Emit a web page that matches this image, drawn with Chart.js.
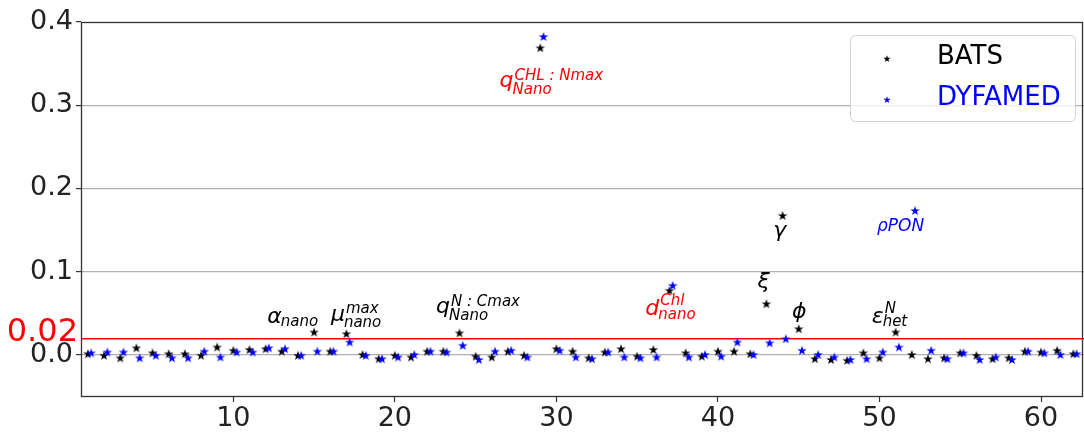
<!DOCTYPE html>
<html>
<head>
<meta charset="utf-8">
<script src="https://cdn.jsdelivr.net/npm/chart.js@4.4.1/dist/chart.umd.min.js"></script>
<style>
  html, body { margin: 0; padding: 0; background: #fff; }
  canvas { display: block; }
</style>
</head>
<body>
<canvas id="chart" width="1084" height="435"></canvas>
<script>
// ── Data ──
const bats = [
  0.001, -0.001, -0.004, 0.008, 0.002, 0.001, 0.001, -0.001, 0.009, 0.005,
  0.006, 0.007, 0.004, -0.001, 0.027, 0.004, 0.025, 0.000, -0.005, -0.001,
  -0.003, 0.004, 0.004, 0.026, -0.002, -0.003, 0.004, -0.001, 0.3685, 0.007,
  0.004, -0.004, 0.003, 0.007, -0.002, 0.006, 0.077, 0.002, -0.002, 0.004,
  0.004, 0.001, 0.061, 0.167, 0.031, -0.005, -0.006, -0.007, 0.002, -0.004,
  0.027, 0.000, -0.005, -0.004, 0.002, -0.001, -0.005, -0.004, 0.004, 0.003,
  0.005, 0.001
];
const dyfamed = [
  0.002, 0.003, 0.003, -0.004, -0.001, -0.004, -0.004, 0.004, -0.003, 0.003,
  0.003, 0.008, 0.007, -0.001, 0.004, 0.004, 0.015, -0.001, -0.005, -0.003,
  0.000, 0.004, 0.003, 0.011, -0.006, 0.004, 0.005, -0.003, 0.382, 0.005,
  -0.003, -0.005, 0.003, -0.003, -0.004, -0.003, 0.083, -0.003, 0.000, -0.002,
  0.015, 0.000, 0.014, 0.019, 0.005, 0.000, -0.003, -0.006, -0.005, 0.003,
  0.009, 0.173, 0.005, -0.005, 0.002, -0.006, -0.003, -0.006, 0.004, 0.002,
  0.000, 0.001
];
const params = bats.map((_, i) => i + 1);   // parameter index 1..62
const xTicks = [10, 20, 30, 40, 50, 60];
const yTicks = [0, 0.1, 0.2, 0.3, 0.4];
const threshold = 0.02;
const seriesNames = ['BATS', 'DYFAMED'];

// parameter labels (x = data, y = baseline in data units)
const annotations = [
  { x: 12.1,  y: 0.0384, base: 'α', sub: 'nano', subDy: 3 },
  { x: 16.04, y: 0.0408, base: 'μ', sup: 'max', sub: 'nano', supDy: -8, subDy: 6 },
  { x: 22.55, y: 0.0504, base: 'q', sup: 'N : Cmax', sub: 'Nano', supDy: -7, subDy: 7 },
  { x: 26.48, y: 0.322,  base: 'q', sup: 'CHL : Nmax', sub: 'Nano', supDy: -7, subDy: 7, color: 'red' },
  { x: 35.5,  y: 0.048,  base: 'd', sup: 'Chl', sub: 'nano', supDy: -10, subDy: 4, color: 'red' },
  { x: 42.45, y: 0.0804, base: 'ξ' },
  { x: 43.42, y: 0.1417, base: 'γ' },
  { x: 49.85, y: 0.149,  base: 'ρPON', size: 17, color: 'blue' },
  { x: 44.58, y: 0.0444, base: 'ϕ' },
  { x: 49.52, y: 0.038,  base: 'ε', sup: 'N', sub: 'het', supDy: -10, subDy: 3 }
];

const FONT = '"DejaVu Sans", "Liberation Sans", sans-serif';
const dyfamedShift = 0.2;

// ── Star marker ──
function makeStar(color, r) {
  const size = Math.ceil(r * 2 + 2);
  const c = document.createElement('canvas');
  c.width = size; c.height = size;
  const g = c.getContext('2d');
  const cx = size / 2, cy = size / 2;
  g.beginPath();
  for (let i = 0; i < 10; i++) {
    const rad = i % 2 === 0 ? r : r * 0.4;
    const a = -Math.PI / 2 + i * Math.PI / 5;
    const px = cx + rad * Math.cos(a), py = cy + rad * Math.sin(a);
    i === 0 ? g.moveTo(px, py) : g.lineTo(px, py);
  }
  g.closePath();
  g.fillStyle = color;
  g.fill();
  return c;
}
const starBlack = makeStar('#000', 5);
const starBlue = makeStar('#0000ff', 5);
const legendBlack = makeStar('#000', 3.8);
const legendBlue = makeStar('#0000ff', 3.8);

// ── Overlay plugin: frame, labels, legend ──
const overlay = {
  id: 'overlay',
  afterDatasetsDraw(chart) {
    const { ctx, chartArea: a, scales } = chart;
    const xs = scales.x, ys = scales.y;
    ctx.save();

    // frame
    ctx.strokeStyle = '#333';
    ctx.lineWidth = 1.3;
    ctx.strokeRect(a.left + 0.5, a.top + 0.5, a.right - a.left - 2, a.bottom - a.top - 1);

    // red threshold label
    ctx.fillStyle = 'red';
    ctx.font = '32px ' + FONT;
    ctx.textAlign = 'right';
    ctx.textBaseline = 'middle';
    ctx.fillText('0.02', 78, ys.getPixelForValue(threshold) - 6);

    // parameter labels
    ctx.textAlign = 'left';
    ctx.textBaseline = 'alphabetic';
    annotations.forEach(t => {
      const size = t.size || 22;
      const px = xs.getPixelForValue(t.x);
      const py = ys.getPixelForValue(t.y);
      ctx.fillStyle = t.color || '#000';
      ctx.font = 'italic ' + size + 'px ' + FONT;
      ctx.fillText(t.base, px, py);
      const w = ctx.measureText(t.base).width;
      ctx.font = 'italic 15px ' + FONT;
      if (t.sup) ctx.fillText(t.sup, px + w + 1, py + t.supDy);
      if (t.sub) ctx.fillText(t.sub, px + w - 1, py + t.subDy);
    });

    // legend
    const lx = 850, ly = 35, lw = 225, lh = 86;
    ctx.beginPath();
    ctx.roundRect(lx + 0.5, ly + 0.5, lw, lh, 5);
    ctx.fillStyle = 'rgba(255,255,255,0.8)';
    ctx.fill();
    ctx.strokeStyle = '#d0d0d0';
    ctx.lineWidth = 1;
    ctx.stroke();
    ctx.font = '26px ' + FONT;
    ctx.textBaseline = 'middle';
    ctx.drawImage(legendBlack, 887 - legendBlack.width / 2, 59 - legendBlack.height / 2);
    ctx.drawImage(legendBlue, 887 - legendBlue.width / 2, 100 - legendBlue.height / 2);
    ctx.fillStyle = '#000';
    ctx.fillText(seriesNames[0], 937, 57);
    ctx.fillStyle = '#0000ff';
    ctx.fillText(seriesNames[1], 937, 98);

    ctx.restore();
  }
};

// ── Chart ──
new Chart(document.getElementById('chart'), {
  type: 'scatter',
  data: {
    datasets: [
      {
        label: seriesNames[0],
        data: params.map((p, i) => ({ x: p, y: bats[i] })),
        pointStyle: starBlack,
        order: 1
      },
      {
        label: seriesNames[1],
        data: params.map((p, i) => ({ x: p + dyfamedShift, y: dyfamed[i] })),
        pointStyle: starBlue,
        order: 0
      }
    ]
  },
  options: {
    responsive: false,
    animation: false,
    devicePixelRatio: 1,
    layout: { autoPadding: false, padding: { top: 22, left: 0, right: 0, bottom: 0 } },
    plugins: {
      legend: { display: false },
      tooltip: { enabled: false }
    },
    scales: {
      x: {
        type: 'linear',
        min: 0.57,
        max: 62.66,
        afterFit(s) { s.height = 38; },
        afterBuildTicks(s) { s.ticks = xTicks.map(v => ({ value: v })); },
        grid: { drawOnChartArea: false, drawTicks: true, tickLength: 5, tickColor: '#333', tickWidth: 1.2 },
        border: { display: false },
        ticks: {
          font: { family: FONT, size: 27 },
          color: '#222',
          padding: 1,
          maxRotation: 0,
          autoSkip: false
        }
      },
      y: {
        min: -0.0505,
        max: 0.4,
        afterFit(s) { s.width = 81; },
        afterBuildTicks(s) { s.ticks = yTicks.concat([threshold]).map(v => ({ value: v })); },
        grid: {
          color: c => c.tick.value === threshold ? '#ff0000'
                    : (c.tick.value === 0.4 ? 'rgba(0,0,0,0)' : '#b0b0b0'),
          lineWidth: c => c.tick.value === threshold ? 1.5 : 1.2,
          tickColor: c => c.tick.value === threshold ? 'rgba(0,0,0,0)' : '#333',
          tickWidth: 1.2,
          tickLength: 5
        },
        border: { display: false },
        ticks: {
          font: { family: FONT, size: 27 },
          color: '#222',
          padding: 3,
          autoSkip: false,
          callback: v => v === threshold ? '' : v.toFixed(1)
        }
      }
    }
  },
  plugins: [overlay]
});
</script>
</body>
</html>
